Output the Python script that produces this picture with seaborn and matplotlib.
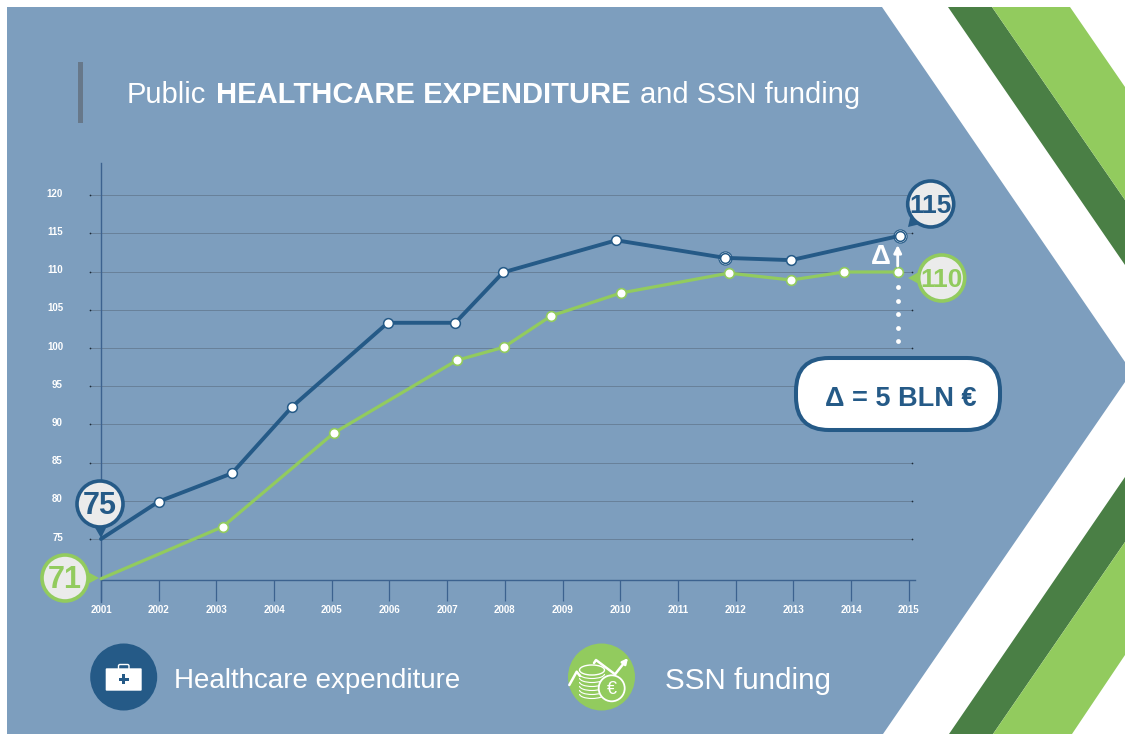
import pandas as pd
import seaborn as sns
import matplotlib
matplotlib.use("Agg")
import matplotlib.pyplot as plt
from matplotlib.patches import Polygon, Circle, Rectangle, FancyBboxPatch, Arc
from matplotlib.transforms import ScaledTranslation

# ---------------------------------
# Data
# ---------------------------------
health_years = [2001, 2002, 2003.27, 2004.31, 2005.97, 2007.14, 2007.97, 2009.93, 2011.81, 2012.96, 2014.85]
health_values = [75, 79.9, 83.6, 92.3, 103.3, 103.3, 109.9, 114.1, 111.8, 111.5, 114.7]
ringed_points = [8, 10]

ssn_years = [2001, 2003.11, 2005.04, 2007.17, 2007.98, 2008.8, 2010.01, 2011.88, 2012.96, 2013.88, 2014.81]
ssn_values = [69.8, 76.6, 88.9, 98.4, 100.1, 104.2, 107.2, 109.8, 108.9, 109.95, 109.95]

x_ticks = list(range(2001, 2016))
y_ticks = list(range(75, 125, 5))

BG = "#7D9EBE"
BLUE = "#255A87"
GREEN = "#92CB5E"
DARK_GREEN = "#4A7F45"
BUBBLE = "#EBEBEB"

sns.set_theme(style="white")
plt.rcParams["font.family"] = ["Liberation Sans", "DejaVu Sans"]

W, H = 1125, 734
fig = plt.figure(figsize=(W / 100, H / 100), dpi=100, facecolor="white")

# background layer, in pixels
bg = fig.add_axes([0, 0, 1, 1], zorder=0)
bg.set_xlim(0, W)
bg.set_ylim(H, 0)
bg.axis("off")
bg.add_patch(Polygon([(7, 7), (882, 7), (1125, 362), (1125, 382), (883, 734), (7, 734)], fc=BG, ec="none"))
bg.add_patch(Polygon([(948, 7), (992, 7), (1125, 200), (1125, 265)], fc=DARK_GREEN, ec="none"))
bg.add_patch(Polygon([(992, 7), (1070, 7), (1125, 87), (1125, 200)], fc=GREEN, ec="none"))
bg.add_patch(Polygon([(949, 734), (993, 734), (1125, 542), (1125, 477)], fc=DARK_GREEN, ec="none"))
bg.add_patch(Polygon([(993, 734), (1072, 734), (1125, 655), (1125, 542)], fc=GREEN, ec="none"))
bg.add_patch(Rectangle((78, 62), 5, 61, fc="#67788A", ec="none"))

bg.text(127, 95, "Public", color="white", fontsize=21, va="center")
bg.text(215.5, 95, "HEALTHCARE EXPENDITURE", color="white", fontsize=21, fontweight="bold", va="center")
bg.text(639.5, 95, "and SSN funding", color="white", fontsize=21, va="center")

# ---------------------------------
# Chart
# ---------------------------------
left, right, top, bottom = 90, 915, 163, 602
ax = fig.add_axes([left / W, 1 - bottom / H, (right - left) / W, (bottom - top) / H], zorder=1)
ax.patch.set_alpha(0)
ax.set_xlim(2001 - 11 / 57.7, 2001 + 814 / 57.7)
ax.set_ylim(75 - 63 / 7.64, 75 + 376 / 7.64)

trans_y = ax.get_yaxis_transform()
grid_end = 822 / 825
ax.hlines(y_ticks, 0, grid_end, transform=trans_y, color="#647C94", lw=0.6, zorder=1)
ax.scatter([0] * len(y_ticks), y_ticks, transform=trans_y, s=1.5, color="#1c2a38", lw=0, clip_on=False)
ax.scatter([grid_end] * len(y_ticks), y_ticks, transform=trans_y, s=1.5, color="#1c2a38", lw=0, clip_on=False)

health = pd.DataFrame({"year": health_years, "value": health_values})
ssn = pd.DataFrame({"year": ssn_years, "value": ssn_values})
# the first point of each line has a callout instead of a marker
sns.lineplot(data=ssn, x="year", y="value", ax=ax, color=GREEN, lw=2.3, marker="o", markersize=7,
             markevery=list(range(1, len(ssn))), markerfacecolor="white", markeredgecolor=GREEN,
             markeredgewidth=1.2, zorder=3, clip_on=False)
ax.scatter([health_years[i] for i in ringed_points], [health_values[i] for i in ringed_points],
           s=90, facecolor="#DDE6EF", edgecolor=BLUE, lw=0.8, zorder=3.5)
sns.lineplot(data=health, x="year", y="value", ax=ax, color=BLUE, lw=2.8, marker="o", markersize=7,
             markevery=list(range(1, len(health))), markerfacecolor="white", markeredgecolor=BLUE,
             markeredgewidth=1.1, zorder=4, clip_on=False)

ax.set_xlabel("")
ax.set_ylabel("")
for side in ["top", "right"]:
    ax.spines[side].set_visible(False)
ax.spines["left"].set_position(("data", 2001))
ax.spines["bottom"].set_position(("data", 75 - 41 / 7.64))
ax.spines["bottom"].set_bounds(2001, ax.get_xlim()[1])
for side in ["left", "bottom"]:
    ax.spines[side].set_color("#3C628F")
    ax.spines[side].set_linewidth(1)

ax.set_xticks(x_ticks)
ax.set_yticks(y_ticks)
ax.tick_params(axis="x", bottom=True, length=15, width=0.9, color="#3C628F", direction="out", pad=3,
               labelsize=7, labelcolor="white")
ax.tick_params(axis="y", left=False, length=0, labelleft=False)
for label in ax.get_xticklabels():
    label.set_fontweight("bold")
# y labels sit left of the spine, a little above their grid line
shift = ScaledTranslation(0, 1 / 72, fig.dpi_scale_trans)
for tick in y_ticks:
    ax.text(-27 / 825, tick, str(tick), transform=trans_y + shift, ha="right", va="center",
            color="white", fontsize=7, fontweight="bold", clip_on=False)

# ---------------------------------
# Callouts and icons, in pixels
# ---------------------------------
top_ax = fig.add_axes([0, 0, 1, 1], zorder=2)
top_ax.set_xlim(0, W)
top_ax.set_ylim(H, 0)
top_ax.axis("off")


def callout(text, center, tip, color, size):
    cx, cy = center
    dx, dy = tip[0] - cx, tip[1] - cy
    dist = (dx ** 2 + dy ** 2) ** 0.5
    ux, uy = dx / dist, dy / dist
    base = [(cx + 21 * ux - 7 * uy, cy + 21 * uy + 7 * ux), (cx + 21 * ux + 7 * uy, cy + 21 * uy - 7 * ux)]
    top_ax.add_patch(Polygon([tip] + base, fc=color, ec="none"))
    top_ax.add_patch(Circle(center, 23, fc=BUBBLE, ec=color, lw=2.6))
    top_ax.text(cx, cy + 2, text, color=color, fontsize=size, fontweight="bold", ha="center", va="center")


callout("75", (100, 504), (101, 538), BLUE, 22)
callout("71", (65, 578), (99, 578), GREEN, 22)
callout("115", (930.7, 204), (908, 227), BLUE, 19)
callout("110", (941.7, 278), (908, 278), GREEN, 19)

# delta marker between the two last points
top_ax.text(880.7, 257, "Δ", color="white", fontsize=20, fontweight="bold", ha="center", va="center")
top_ax.annotate("", xy=(897.7, 245), xytext=(897.7, 266),
                arrowprops=dict(arrowstyle="-|>", color="white", lw=2, mutation_scale=11, shrinkA=0, shrinkB=0))
top_ax.scatter([897.7] * 5, [287.3, 301, 314.3, 327.7, 341.3], s=12, color="white", lw=0)

top_ax.add_patch(FancyBboxPatch((796, 358), 204, 72, boxstyle="round,pad=0,rounding_size=33",
                                fc="white", ec=BLUE, lw=2.9))
top_ax.text(900.5, 398.5, "Δ = 5 BLN €", color=BLUE, fontsize=19.5, fontweight="bold", ha="center", va="center")

# healthcare icon
top_ax.add_patch(Circle((123.7, 677), 33.5, fc=BLUE, ec="none"))
top_ax.add_patch(FancyBboxPatch((118.5, 664.5), 10.5, 6, boxstyle="round,pad=0,rounding_size=1.5",
                                fc="none", ec="white", lw=1))
top_ax.add_patch(FancyBboxPatch((105.7, 668.3), 36, 22.4, boxstyle="round,pad=0,rounding_size=1",
                                fc="white", ec="none"))
top_ax.add_patch(Rectangle((118.7, 677.7), 10, 2.8, fc=BLUE, ec="none"))
top_ax.add_patch(Rectangle((122.3, 674), 2.8, 10, fc=BLUE, ec="none"))
top_ax.text(174, 681, "Healthcare expenditure", color="white", fontsize=20, va="center")

# funding icon
top_ax.add_patch(Circle((601.5, 677), 33.5, fc=GREEN, ec="none"))
top_ax.plot([569.3, 576.7, 580], [685, 671.7, 676], color="white", lw=1.8, solid_capstyle="round")
top_ax.plot([594, 596, 615], [663, 660, 674.3], color="white", lw=1.8)
top_ax.annotate("", xy=(628, 658), xytext=(615, 674.3),
                arrowprops=dict(arrowstyle="-|>", color="white", lw=1.8, mutation_scale=8, shrinkA=0, shrinkB=0))
for k in range(1, 7):
    top_ax.add_patch(Arc((592, 670 + 4 * k), 25, 9, theta1=0, theta2=180, color="white", lw=0.8))
top_ax.add_patch(Arc((592, 670), 25, 10, color="white", lw=1))
top_ax.add_patch(Circle((611.7, 688.3), 13, fc=GREEN, ec="white", lw=1.3))
top_ax.text(611.7, 689.5, "€", color="white", fontsize=13, ha="center", va="center")
top_ax.text(665, 681, "SSN funding", color="white", fontsize=21.3, va="center")

fig.savefig("out.png", dpi=100, facecolor="white")
